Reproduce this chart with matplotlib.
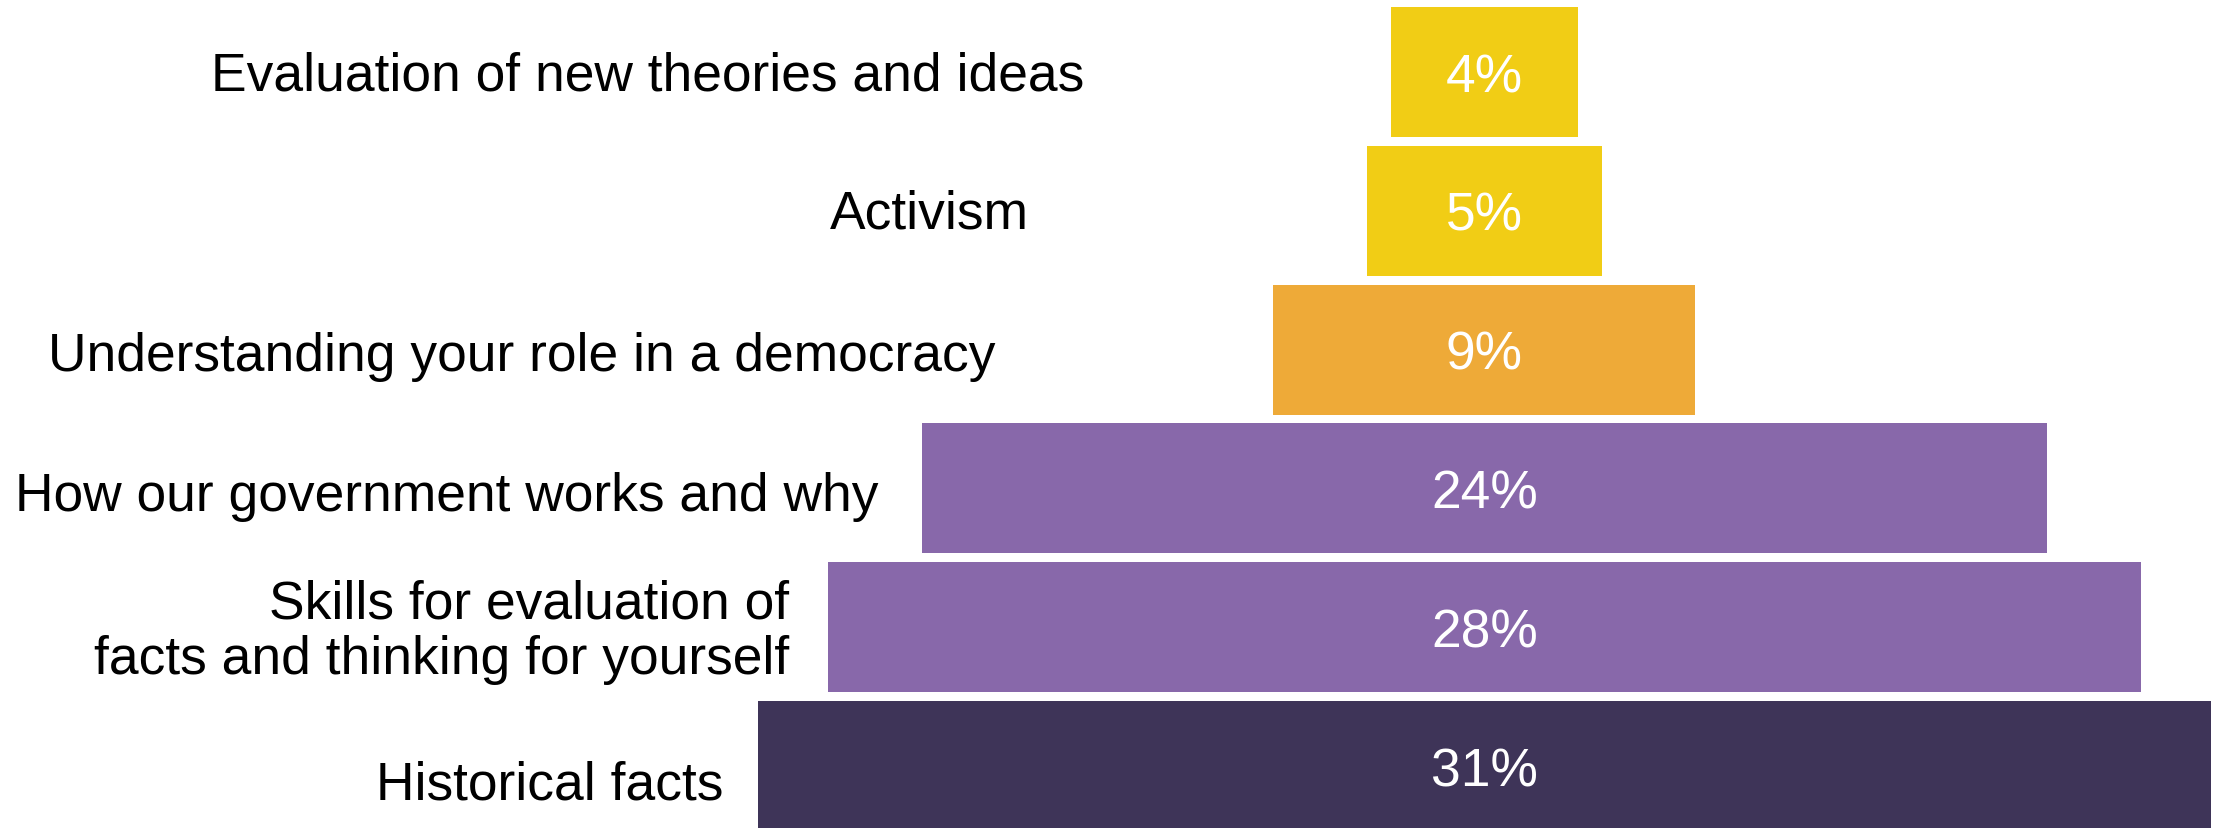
import matplotlib
matplotlib.use("Agg")
import matplotlib.pyplot as plt
from matplotlib.transforms import offset_copy

plt.rcParams["font.family"] = ["Liberation Sans", "DejaVu Sans"]

# Survey results, listed from the bottom row to the top row
categories = [
    "Historical facts",
    "Skills for evaluation of\nfacts and thinking for yourself",
    "How our government works and why",
    "Understanding your role in a democracy",
    "Activism",
    "Evaluation of new theories and ideas",
]
values = [31, 28, 24, 9, 5, 4]
value_labels = ["31%", "28%", "24%", "9%", "5%", "4%"]
colors = ["#3E3458", "#8868AA", "#8868AA", "#EEAA38", "#F1CD15", "#F1CD15"]

# Layout: right edge of each category label (x, data units) and a small vertical nudge
label_x = [-16.23, -14.84, -12.92, -10.42, -9.72, -8.54]
label_dy = [-0.10, -0.03, -0.018, -0.01, 0.018, 0.01]

FS = 38.4
CAP = 0.716 * FS  # cap height in points

fig = plt.figure(figsize=(22.23, 8.29), dpi=100)
ax = fig.add_axes([0, 0, 1, 1])

ypos = list(range(len(values)))
lefts = [-v / 2 for v in values]
ax.barh(ypos, values, left=lefts, height=0.937, color=colors, edgecolor="none")

# baseline-anchored text shifted down by half the cap height -> glyphs centred
cap_centred = offset_copy(ax.transData, fig=fig, x=0, y=-CAP / 2, units="points")

for y, v, txt in zip(ypos, values, value_labels):
    ax.text(0, y, txt, ha="center", va="baseline", color="white",
            fontsize=FS, transform=cap_centred)

for y, name, lx, dy in zip(ypos, categories, label_x, label_dy):
    if "\n" in name:
        ax.text(lx, y + dy, name, ha="right", va="center", ma="right",
                color="black", fontsize=FS, linespacing=1.13)
    else:
        ax.text(lx, y + dy, name, ha="right", va="baseline",
                color="black", fontsize=FS, transform=cap_centred)

ax.set_xlim(-31.67, 15.76)
ax.set_ylim(-0.447, 5.526)
ax.axis("off")

fig.savefig("out.png", dpi=100, facecolor="white")
